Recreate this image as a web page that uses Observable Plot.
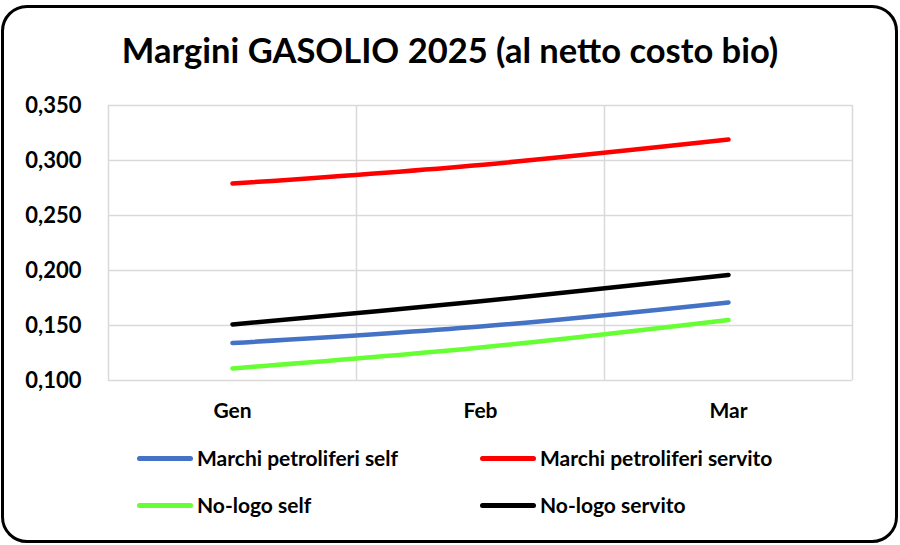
<!DOCTYPE html>
<html><head><meta charset="utf-8">
<script src="https://cdn.jsdelivr.net/npm/d3@7"></script>
<script src="https://cdn.jsdelivr.net/npm/@observablehq/plot@0.6"></script>
<style>
html,body{margin:0;padding:0;background:#fff;}
#wrap{position:relative;width:900px;height:545px;overflow:hidden;font-family:Lato,"Open Sans",sans-serif;font-weight:bold;}
#frame{position:absolute;left:1px;top:5px;width:891px;height:532px;border:3px solid #000;border-radius:26px;}
#title{position:absolute;left:0;top:30px;width:900px;text-align:center;font-size:34.5px;color:#000;line-height:40px;}
#chart{position:absolute;left:0;top:80px;}
.leg{position:absolute;display:flex;align-items:center;font-size:21px;color:#000;height:30px;line-height:30px;}
.sw{width:56px;height:5px;border-radius:3px;margin-right:4px;}
</style></head>
<body><div id="wrap"><div id="frame"></div><div id="title">Margini GASOLIO 2025 (al netto costo bio)</div><div id="chart"></div><div id="legend"></div></div>
<script>
const months = ["Gen","Feb","Mar"];
const seriesNames = ["Marchi petroliferi self","Marchi petroliferi servito","No-logo self","No-logo servito"];
const seriesColors = ["#4472c4","#ff0000","#66ff33","#000000"];
const marchiSelf = [0.134,0.149,0.171];
const marchiServito = [0.279,0.296,0.319];
const nologoSelf = [0.111,0.130,0.155];
const nologoServito = [0.151,0.172,0.196];
const yTicks = [0.100,0.150,0.200,0.250,0.300,0.350];

const allSeries = [marchiSelf, marchiServito, nologoSelf, nologoServito];
const data = [];
allSeries.forEach((vals,si)=>vals.forEach((v,i)=>data.push({i, month:months[i], value:v, series:seriesNames[si]})));
const drawOrder = [1,3,0,2];
const gridX = d3.range(months.length+1).map(k=>k-0.5);
const fmt = d=>d.toFixed(3).replace(".",",");

const plot = Plot.plot({
  width:900, height:360,
  marginLeft:108, marginRight:48, marginTop:25, marginBottom:60,
  style:{fontFamily:'Lato,"Open Sans",sans-serif', fontWeight:"bold", color:"#000", background:"transparent"},
  x:{domain:[-0.5, months.length-0.5], label:null, axis:null},
  y:{domain:[0.1,0.35], label:null, axis:null},
  marks:[
    Plot.ruleY(yTicks,{stroke:"#d9d9d9", strokeWidth:1.5}),
    Plot.ruleX(gridX,{stroke:"#d9d9d9", strokeWidth:1.5}),
    ...drawOrder.map(si=>Plot.line(data.filter(d=>d.series===seriesNames[si]),{x:"i", y:"value", stroke:seriesColors[si], strokeWidth:4.5, curve:"catmull-rom", strokeLinecap:"round"})),
    Plot.axisX({ticks:d3.range(months.length), tickFormat:i=>months[i], tickSize:0, tickPadding:23, fontSize:21, label:null}),
    Plot.axisY({ticks:yTicks, tickFormat:fmt, tickSize:0, tickPadding:27, fontSize:22, label:null})
  ]
});
document.getElementById("chart").appendChild(plot);

const legPos = [[137,458],[480,458],[137,505],[480,505]];
const lg = document.getElementById("legend");
seriesNames.forEach((n,k)=>{
  const d = document.createElement("div");
  d.className="leg"; d.style.left=legPos[k][0]+"px"; d.style.top=(legPos[k][1]-15)+"px";
  d.innerHTML = `<div class="sw" style="background:${seriesColors[k]}"></div><span>${n}</span>`;
  lg.appendChild(d);
});
</script></body></html>
